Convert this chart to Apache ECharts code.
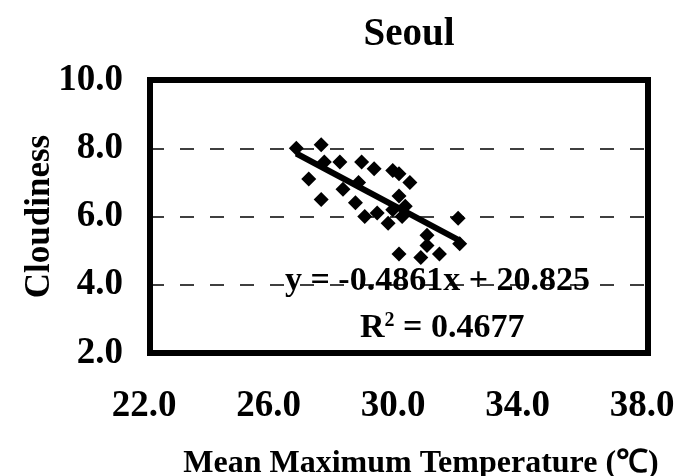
<!DOCTYPE html>
<html>
<head>
<meta charset="utf-8">
<script src="https://cdn.jsdelivr.net/npm/echarts@6/dist/echarts.min.js"></script>
<style>html,body{margin:0;padding:0;background:#fff}#c{width:682px;height:476px}</style>
</head>
<body>
<div id="c"></div>
<script>
const titleText = 'Seoul';
const xName = 'Mean Maximum Temperature (\u2103)';
const yName = 'Cloudiness';
const xTicks = [22, 26, 30, 34, 38];
const yTicks = [2, 4, 6, 8, 10];
const tempX = [26.7, 27.5, 27.6, 28.1, 27.1, 27.5, 28.8, 29.2, 29.8, 30.0, 30.35, 28.2, 28.7, 28.6, 28.9, 29.3, 29.65, 30.0, 29.8, 30.1, 30.2, 31.9, 30.0, 30.9, 30.9, 30.7, 31.3, 31.95];
const cloudY = [8.0, 8.1, 7.6, 7.6, 7.1, 6.5, 7.6, 7.4, 7.35, 7.25, 7.0, 6.8, 7.0, 6.4, 6.0, 6.1, 5.8, 6.6, 6.2, 6.0, 6.3, 5.95, 4.9, 5.45, 5.15, 4.8, 4.9, 5.2];
const slope = -0.4861;
const intercept = 20.825;
const r2 = 0.4677;

const pts = tempX.map((x, i) => [x, cloudY[i]]);
const xmin = Math.min(...tempX), xmax = Math.max(...tempX);
const trend = [[xmin, slope * xmin + intercept], [xmax, slope * xmax + intercept]];

const font = 'Liberation Serif, Times New Roman, serif';
const chart = echarts.init(document.getElementById('c'));
chart.setOption({
  animation: false,
  backgroundColor: '#fff',
  title: {
    text: titleText, left: 404, top: 10, textAlign: 'center',
    textStyle: { fontFamily: font, fontWeight: 'bold', fontSize: 39, color: '#000' }
  },
  grid: { left: 150, right: 34, top: 80, bottom: 123, show: true, borderColor: '#000', borderWidth: 6,
    outerBoundsMode: 'none', containLabel: false },
  xAxis: {
    type: 'value', min: 22, max: 38, interval: 4,
    name: xName, nameLocation: 'middle', nameGap: 95,
    nameTextStyle: { fontFamily: font, fontWeight: 'bold', fontSize: 32, color: '#000', padding: [0, 0, 0, 44] },
    axisLine: { show: false }, axisTick: { show: false }, splitLine: { show: false },
    axisLabel: { fontFamily: font, fontWeight: 'bold', fontSize: 37, color: '#000', margin: 35,
      padding: [0, 12, 0, 0], formatter: v => v.toFixed(1) }
  },
  yAxis: {
    type: 'value', min: 2, max: 10, interval: 2,
    name: yName, nameLocation: 'middle', nameGap: 93, nameRotate: 90, nameMoveOverlap: false,
    nameTextStyle: { fontFamily: font, fontWeight: 'bold', fontSize: 35, color: '#000' },
    axisLine: { show: false }, axisTick: { show: false },
    splitLine: { show: true, lineStyle: { color: '#000', width: 1.5, type: [14, 16] } },
    axisLabel: { fontFamily: font, fontWeight: 'bold', fontSize: 37, color: '#000', margin: 27,
      formatter: v => v.toFixed(1) }
  },
  series: [
    { type: 'scatter', data: pts, symbol: 'diamond', symbolSize: 15, itemStyle: { color: '#000', opacity: 1 }, z: 3 },
    { type: 'line', data: trend, symbol: 'none', lineStyle: { color: '#000', width: 6, opacity: 1 }, z: 4 }
  ],
  graphic: [
    { type: 'text', left: 285, top: 264, z: 10,
      style: { text: 'y = ' + slope.toFixed(4) + 'x + ' + intercept.toFixed(3), fontFamily: font, fontWeight: 'bold', fontSize: 34, fill: '#000' } },
    { type: 'text', left: 360, top: 311, z: 10,
      style: { text: '{a|R}{s|2}{a| = ' + r2.toFixed(4) + '}', fontFamily: font,
        rich: { a: { fontFamily: font, fontWeight: 'bold', fontSize: 34, fill: '#000', verticalAlign: 'bottom' },
                s: { fontFamily: font, fontWeight: 'bold', fontSize: 20, fill: '#000', verticalAlign: 'top', padding: [0,0,14,0] } } } }
  ]
});
</script>
</body>
</html>
